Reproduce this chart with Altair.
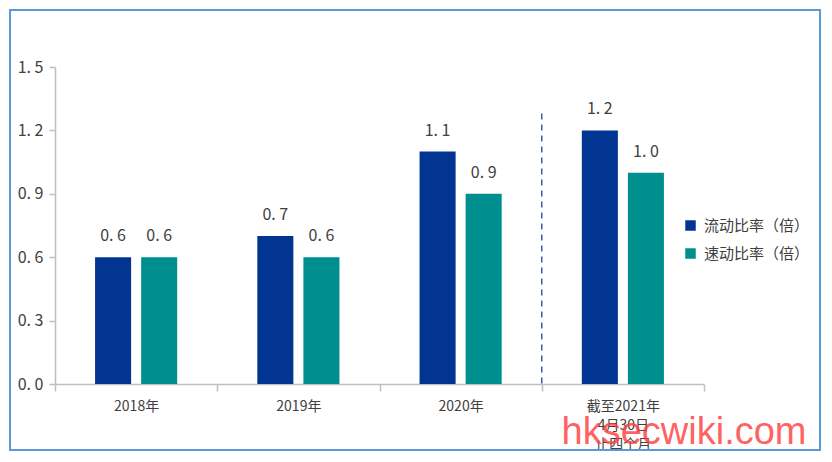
import altair as alt
import pandas as pd

categories = ["2018年", "2019年", "2020年", "截至2021年|4月30日|止四个月"]
series = ["流动比率（倍）", "速动比率（倍）"]
current_ratio = [0.6, 0.7, 1.1, 1.2]
quick_ratio = [0.6, 0.6, 0.9, 1.0]
y_ticks = [0.0, 0.3, 0.6, 0.9, 1.2, 1.5]
watermark = "hksecwiki.com"

rows = []
for c, a, b in zip(categories, current_ratio, quick_ratio):
    rows.append({"cat": c, "series": series[0], "value": a})
    rows.append({"cat": c, "series": series[1], "value": b})
df = pd.DataFrame(rows)

BLUE = "#023592"
TEAL = "#008F8F"
TXT = "#404040"
FONT = "Noto Sans CJK SC"
W, H = 649, 317

yscale = alt.Scale(domain=[0, 1.5], nice=False, zero=True)

x_enc = alt.X("cat:N", sort=categories,
              scale=alt.Scale(paddingInner=0, paddingOuter=0),
              axis=alt.Axis(title=None, labelAngle=0, tickBand="extent",
                            labelExpr="split(datum.label, '|')",
                            labelFont=FONT, labelFontSize=14, labelColor=TXT,
                            labelPadding=8, labelLineHeight=19,
                            domainColor="#BFBFBF", tickColor="#BFBFBF",
                            tickSize=7, domainWidth=1.5, tickWidth=1.5))
xo = alt.XOffset("series:N", sort=series,
                 scale=alt.Scale(paddingInner=0.2174, paddingOuter=0.8696))

bars = alt.Chart(df).mark_bar().encode(
    x=x_enc,
    xOffset=xo,
    y=alt.Y("value:Q", scale=yscale,
            axis=alt.Axis(title=None, values=y_ticks, grid=False,
                          labelExpr="replace(format(datum.value, '.1f'), '.', '. ')",
                          labelFont=FONT, labelFontSize=16, labelColor=TXT,
                          labelPadding=6, domainColor="#BFBFBF", tickColor="#BFBFBF",
                          tickSize=6, domainWidth=1.5, tickWidth=1.5)),
    color=alt.Color("series:N", sort=series,
                    scale=alt.Scale(domain=series, range=[BLUE, TEAL]),
                    legend=alt.Legend(title=None, orient="none", legendX=628, legendY=151,
                                      symbolType="square", symbolSize=110,
                                      symbolStrokeWidth=0,
                                      labelFont=FONT, labelFontSize=15, labelColor=TXT,
                                      rowPadding=12, padding=0, labelOffset=6)),
)

labels = alt.Chart(df).mark_text(dy=-13, baseline="bottom", font=FONT,
                                 fontSize=16, color=TXT).encode(
    x=alt.X("cat:N", sort=categories),
    xOffset=xo,
    y=alt.Y("value:Q", scale=yscale),
    text=alt.Text("lbl:N"),
).transform_calculate(lbl="replace(format(datum.value, '.1f'), '.', '. ')")

divider = alt.Chart(pd.DataFrame({"cat": [categories[3]], "top": [1.28], "bottom": [0.0]})).mark_rule(
    color="#3B5BA5", strokeDash=[6, 5], strokeWidth=1.5).encode(
    x=alt.X("cat:N", sort=categories, bandPosition=0),
    y=alt.Y("top:Q", scale=yscale), y2="bottom:Q")

border = alt.Chart(pd.DataFrame({"a": [0]})).mark_rect(
    fill=None, stroke="#5B9BD5", strokeWidth=2).encode(
    x=alt.value(-45), x2=alt.value(W + 116), y=alt.value(-57), y2=alt.value(H + 66))

wm = alt.Chart(pd.DataFrame({"t": [watermark]})).mark_text(
    font="Liberation Sans", fontSize=38, color="#FF3B3B", opacity=0.8,
    align="center", baseline="alphabetic").encode(
    x=alt.value(629), y=alt.value(377), text="t:N")

chart = alt.layer(bars, labels, divider, border, wm).properties(
    width=W, height=H,
    background="white",
    autosize=alt.AutoSizeParams(type="none"),
    padding={"left": 47, "top": 59, "right": 118, "bottom": 68},
).configure_view(stroke="transparent", strokeWidth=0)

chart.save("out.html", embed_options={"renderer": "svg", "actions": False})
